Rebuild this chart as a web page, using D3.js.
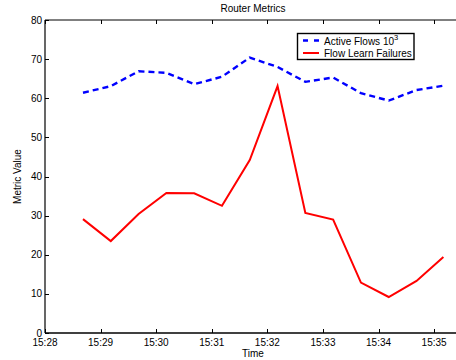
<!DOCTYPE html>
<html>
<head>
<meta charset="utf-8">
<script src="https://cdn.jsdelivr.net/npm/d3@7"></script>
<style>
  body { margin: 0; background: #fff; }
  svg { display: block; font-family: "Liberation Sans", Arial, sans-serif; }
</style>
</head>
<body>
<svg id="chart" width="456" height="360"></svg>
<script>
// Sample times (HH:MM:SS) for each measurement
const times = ["15:28:41","15:29:11","15:29:41","15:30:11","15:30:41","15:31:11","15:31:41",
               "15:32:11","15:32:41","15:33:11","15:33:41","15:34:11","15:34:41","15:35:10"];
// Active flows, in thousands
const activeFlows = [61.4, 63.1, 66.9, 66.5, 63.6, 65.5, 70.4, 68.0, 64.2, 65.3, 61.3, 59.4, 62.1, 63.2];
// Flow learn failures
const learnFailures = [29.1, 23.5, 30.4, 35.8, 35.7, 32.5, 44.2, 63.1, 30.7, 29.0, 12.9, 9.2, 13.3, 19.4];
const xTickLabels = ["15:28","15:29","15:30","15:31","15:32","15:33","15:34","15:35"];
const yTicks = [0, 10, 20, 30, 40, 50, 60, 70, 80];

const parseT = s => { const [h, m, sec] = s.split(":").map(Number); return new Date(2000, 0, 1, h, m, sec || 0); };

const svg = d3.select("#chart");
const plotL = 45, plotR = 461, plotT = 20, plotB = 333;

const x = d3.scaleTime()
  .domain([parseT("15:28:00"), parseT("15:35:29")])
  .range([plotL, plotR]);
const y = d3.scaleLinear().domain([0, 80]).range([plotB, plotT]);

const fontSize = 10;
const tickLen = 4;

// Axes box
const g = svg.append("g");
g.append("line").attr("x1", plotL).attr("x2", plotR).attr("y1", plotT).attr("y2", plotT)
  .attr("stroke", "#000").attr("stroke-width", 1);
g.append("line").attr("x1", plotL).attr("x2", plotL).attr("y1", plotT).attr("y2", plotB)
  .attr("stroke", "#000").attr("stroke-width", 1.2);
g.append("line").attr("x1", plotR).attr("x2", plotR).attr("y1", plotT).attr("y2", plotB)
  .attr("stroke", "#000").attr("stroke-width", 1);

// X ticks (inward on bottom and top)
const xTickDates = xTickLabels.map(s => parseT(s + ":00"));
xTickDates.forEach((d, i) => {
  const px = Math.round(x(d)) + 0.5;
  g.append("line").attr("x1", px).attr("x2", px).attr("y1", plotB).attr("y2", plotB - tickLen)
    .attr("stroke", "#000");
  g.append("line").attr("x1", px).attr("x2", px).attr("y1", plotT).attr("y2", plotT + tickLen)
    .attr("stroke", "#000");
  g.append("text").attr("x", x(d)).attr("y", plotB + 13)
    .attr("text-anchor", "middle").attr("font-size", fontSize).attr("fill", "#000")
    .text(xTickLabels[i]);
});

// Y ticks (inward on left and right)
yTicks.forEach(v => {
  const py = Math.round(y(v)) + 0.5;
  g.append("line").attr("x1", plotL).attr("x2", plotL + tickLen).attr("y1", py).attr("y2", py)
    .attr("stroke", "#000");
  g.append("line").attr("x1", plotR).attr("x2", plotR - tickLen).attr("y1", py).attr("y2", py)
    .attr("stroke", "#000");
  g.append("text").attr("x", plotL - 3).attr("y", y(v) + 3.5)
    .attr("text-anchor", "end").attr("font-size", fontSize).attr("fill", "#000")
    .text(v);
});

// Bottom axis line drawn last so it sits on top
g.append("line").attr("x1", plotL).attr("x2", plotR).attr("y1", plotB).attr("y2", plotB)
  .attr("stroke", "#000").attr("stroke-width", 1.6);

// Series
const pts = a => a.map((v, i) => [x(parseT(times[i])), y(v)]);
const line = d3.line();

svg.append("path").attr("d", line(pts(learnFailures)))
  .attr("fill", "none").attr("stroke", "#ff0000").attr("stroke-width", 2)
  .attr("stroke-linejoin", "miter");
svg.append("path").attr("d", line(pts(activeFlows)))
  .attr("fill", "none").attr("stroke", "#0000ff").attr("stroke-width", 2.4)
  .attr("stroke-dasharray", "6,4");

// Title and axis labels
svg.append("text").attr("x", (plotL + plotR) / 2).attr("y", 12)
  .attr("text-anchor", "middle").attr("font-size", fontSize).text("Router Metrics");
svg.append("text").attr("x", (plotL + plotR) / 2).attr("y", 357)
  .attr("text-anchor", "middle").attr("font-size", fontSize).text("Time");
svg.append("text").attr("transform", `translate(21,${(plotT + plotB) / 2}) rotate(-90)`)
  .attr("text-anchor", "middle").attr("font-size", fontSize).text("Metric Value");

// Legend
const lg = svg.append("g");
lg.append("rect").attr("x", 297.5).attr("y", 33.5).attr("width", 116.5).attr("height", 26)
  .attr("fill", "#fff").attr("stroke", "#000").attr("stroke-width", 1.4);
lg.append("line").attr("x1", 303).attr("x2", 319).attr("y1", 40.5).attr("y2", 40.5)
  .attr("stroke", "#0000ff").attr("stroke-width", 2.4).attr("stroke-dasharray", "5,6");
lg.append("line").attr("x1", 303).attr("x2", 319).attr("y1", 53).attr("y2", 53)
  .attr("stroke", "#ff0000").attr("stroke-width", 2);
const t1 = lg.append("text").attr("x", 324).attr("y", 45).attr("font-size", fontSize);
t1.append("tspan").text("Active Flows 10");
t1.append("tspan").attr("dy", -5.5).attr("font-size", 7.5).text("3");
lg.append("text").attr("x", 324).attr("y", 57).attr("font-size", fontSize).text("Flow Learn Failures");
</script>
</body>
</html>
